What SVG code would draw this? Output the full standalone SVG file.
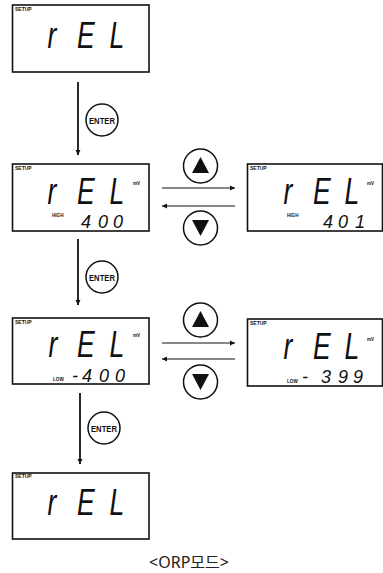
<svg xmlns="http://www.w3.org/2000/svg" width="383" height="573" viewBox="0 0 383 573">
<style>
.box{fill:#fff;stroke:#111;stroke-width:1.6}
.setup{font-family:"Liberation Sans",Arial,sans-serif;font-weight:bold;font-size:5px;fill:#111}
.small{font-family:"Liberation Sans",Arial,sans-serif;font-weight:bold;font-size:4.6px;fill:#111}
.big{font-family:"Liberation Sans",Arial,sans-serif;font-style:italic;font-size:37px;fill:#111;text-anchor:middle}
.dig{font-family:"Liberation Sans",Arial,sans-serif;font-style:italic;font-size:18px;fill:#111;text-anchor:middle}
.vline{stroke:#111;stroke-width:1.8;fill:none}
.hline{stroke:#111;stroke-width:1.1;fill:none}
.btn{fill:#fff;stroke:#111;stroke-width:1.5}
.enter{font-family:"Liberation Sans",Arial,sans-serif;font-weight:bold;font-size:9px;fill:#111;text-anchor:middle}
.tri{fill:#111}
.cap{font-family:"Noto Sans","Noto Sans CJK KR",sans-serif;font-size:16px;fill:#222;text-anchor:middle}
</style>
<defs>
<marker id="ah" markerWidth="6" markerHeight="6" refX="5" refY="3" orient="auto" markerUnits="userSpaceOnUse">
<path d="M0,0.5 L5,3 L0,5.5 Z" fill="#111"/>
</marker>
</defs>

<g id="node-rel-1">
<rect class="box" x="12.5" y="5" width="136.5" height="67"/>
<text class="setup" x="15" y="11">SETUP</text>
<text class="big" transform="scale(0.72,1)" x="72.2 119.4 162.5" y="48">rEL</text>
</g>

<g id="node-rel-high-400">
<rect class="box" x="12.5" y="164" width="136.5" height="67"/>
<text class="setup" x="15" y="170">SETUP</text>
<text class="small" x="133" y="185">mV</text>
<text class="small" x="52" y="217">HIGH</text>
<text class="big" transform="scale(0.72,1)" x="72.2 119.4 162.5" y="204">rEL</text>
<text class="dig" x="86 103 118" y="228">400</text>
</g>

<g id="node-rel-high-401">
<rect class="box" x="247.5" y="164" width="135" height="67"/>
<text class="setup" x="250" y="170">SETUP</text>
<text class="small" x="367" y="185">mV</text>
<text class="small" x="287" y="217">HIGH</text>
<text class="big" transform="scale(0.72,1)" x="400 447.2 488.9" y="204">rEL</text>
<text class="dig" x="328 343 360" y="228">401</text>
</g>

<g id="node-rel-low-400">
<rect class="box" x="12.5" y="318" width="136.5" height="66"/>
<text class="setup" x="15" y="324">SETUP</text>
<text class="small" x="133" y="337">mV</text>
<text class="small" x="53" y="381">LOW</text>
<text class="big" transform="scale(0.72,1)" x="73.6 119.4 162.5" y="357">rEL</text>
<text class="dig" x="75 87 104 120" y="382">-400</text>
</g>

<g id="node-rel-low-399">
<rect class="box" x="247.5" y="319" width="135" height="67"/>
<text class="setup" x="250" y="325">SETUP</text>
<text class="small" x="367" y="341">mV</text>
<text class="small" x="287" y="383">LOW</text>
<text class="big" transform="scale(0.72,1)" x="400 447.2 488.9" y="359">rEL</text>
<text class="dig" x="305 326 343 358" y="383">-399</text>
</g>

<g id="node-rel-4">
<rect class="box" x="12.5" y="473" width="136.5" height="66"/>
<text class="setup" x="15" y="478">SETUP</text>
<text class="big" transform="scale(0.72,1)" x="72.2 119.4 162.5" y="515">rEL</text>
</g>

<g id="connectors">
<line class="vline" x1="78" y1="82" x2="78" y2="155" marker-end="url(#ah)"/>
<line class="vline" x1="78" y1="239" x2="78" y2="305" marker-end="url(#ah)"/>
<line class="vline" x1="80" y1="393" x2="80" y2="464" marker-end="url(#ah)"/>
<line class="hline" x1="162" y1="188" x2="235" y2="188" marker-end="url(#ah)"/>
<line class="hline" x1="235" y1="206" x2="162" y2="206" marker-end="url(#ah)"/>
<line class="hline" x1="162" y1="343" x2="235" y2="343" marker-end="url(#ah)"/>
<line class="hline" x1="235" y1="359" x2="162" y2="359" marker-end="url(#ah)"/>
</g>

<g id="btn-enter-1">
<circle class="btn" cx="102" cy="120" r="16"/>
<text class="enter" x="102" y="123.5" textLength="26" lengthAdjust="spacingAndGlyphs">ENTER</text>
</g>
<g id="btn-enter-2">
<circle class="btn" cx="102" cy="277" r="16"/>
<text class="enter" x="102" y="280.5" textLength="26" lengthAdjust="spacingAndGlyphs">ENTER</text>
</g>
<g id="btn-enter-3">
<circle class="btn" cx="104" cy="428" r="16"/>
<text class="enter" x="104" y="431.5" textLength="26" lengthAdjust="spacingAndGlyphs">ENTER</text>
</g>

<g id="btn-up-1">
<circle class="btn" cx="200.5" cy="166" r="17"/>
<path class="tri" d="M200.5,157 L192,173 L209,173 Z"/>
</g>
<g id="btn-down-1">
<circle class="btn" cx="200.5" cy="228" r="17"/>
<path class="tri" d="M192,220 L209,220 L200.5,236 Z"/>
</g>
<g id="btn-up-2">
<circle class="btn" cx="200.5" cy="320" r="17"/>
<path class="tri" d="M200.5,311 L192,327 L209,327 Z"/>
</g>
<g id="btn-down-2">
<circle class="btn" cx="200.5" cy="382" r="17"/>
<path class="tri" d="M192,374 L209,374 L200.5,390 Z"/>
</g>

<text class="cap" x="189" y="568">&lt;ORP모드&gt;</text>
</svg>
